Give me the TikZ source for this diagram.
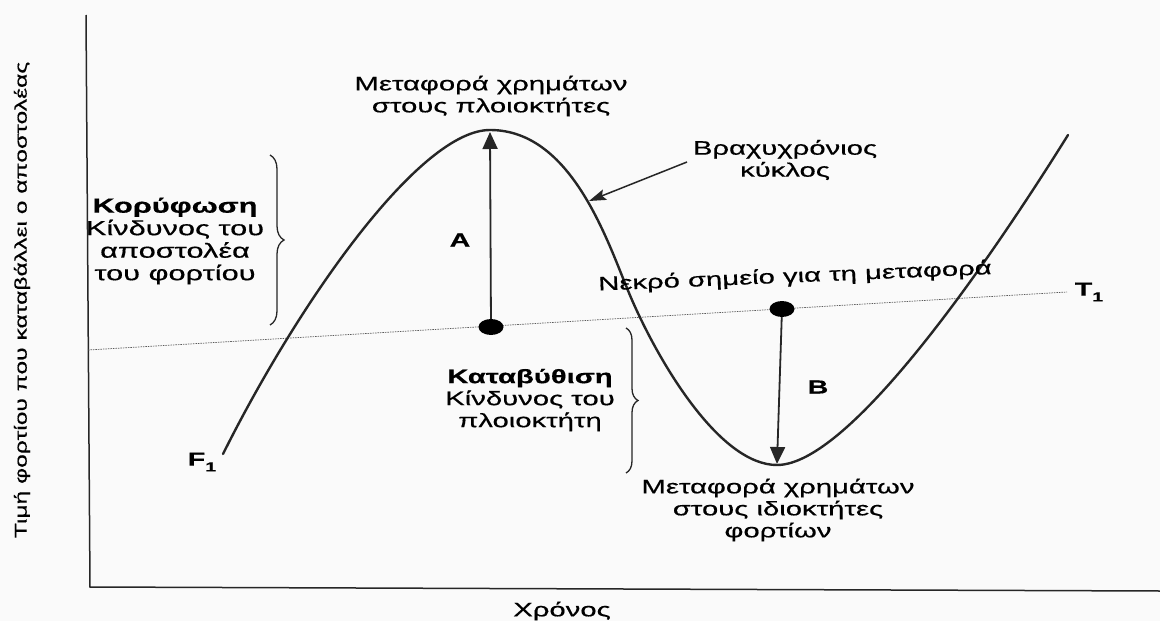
\documentclass[tikz,border=0pt]{standalone}
\usepackage{fontspec}
\setmainfont{Liberation Sans}
\newfontfamily\wf{Liberation Sans}[FakeStretch=1.5,FakeBold=0.5]
\newfontfamily\yf{Liberation Sans}[FakeStretch=1.45,FakeBold=0.4]
\usetikzlibrary{shapes.geometric,arrows.meta,decorations.pathreplacing}
\newcommand{\subone}{\raisebox{-0.3em}{\fontsize{13}{13}\selectfont 1}}
\begin{document}
\begin{tikzpicture}[x=1pt,y=-1pt,
  ink/.style={black!85},
  txt/.style={font=\wf\fontsize{19.5}{22}\selectfont, align=center, inner sep=0pt, text=black},
  lbl/.style={font=\wf\bfseries\fontsize{19}{22}\selectfont, inner sep=0pt, text=black},
  axisline/.style={ink, line width=1.5pt},
  dotline/.style={black!65, line width=0.7pt, dash pattern=on 1.5pt off 1pt},
  curveline/.style={ink, line width=2.4pt, line cap=round},
  dotnode/.style={ellipse, fill=black, draw=none, minimum width=25pt, minimum height=16pt, inner sep=0pt},
  bigarr/.style={ink, line width=1.8pt, -{Triangle[length=17pt,width=15pt]}},
  thinarr/.style={ink, line width=1.5pt, -{Stealth[length=17pt,width=11pt,inset=3pt]}},
  bracestyle/.style={ink, line width=1.3pt, decorate},
]
\path[use as bounding box, fill=gray!4] (0,0) rectangle (1160,621);

% axes
\coordinate (ytop) at (86,15);
\coordinate (orig) at (90,587);
\coordinate (xend) at (1160,591);
\draw[axisline] (ytop) -- (orig) -- (xend);

% dotted line T1
\coordinate (d0) at (88,350);
\coordinate (d1) at (1067,292);
\draw[dotline] (d0) -- (d1);

% curve
\coordinate (cs) at (223,454);
\coordinate (cpeak) at (490,130);
\coordinate (cinf) at (632,300);
\coordinate (ctr) at (777,465);
\coordinate (ce) at (1068,135);
\draw[curveline] (cs) .. controls (300,300) and (420,130) .. (cpeak)
  .. controls (575,130) and (610,250) .. (cinf)
  .. controls (660,364) and (720,465) .. (ctr)
  .. controls (850,465) and (990,260) .. (ce);

% dots and arrows
\node[dotnode] (dA) at (491,327) {};
\node[dotnode] (dB) at (782,309) {};
\coordinate (peak) at (490,132);
\coordinate (trough) at (777,464);
\draw[bigarr] (dA) -- (peak);
\draw[bigarr] (dB) -- (trough);

% short cycle arrow
\coordinate (bs) at (687,162);
\coordinate (be) at (589,201);
\draw[thinarr] (bs) -- (be);

% braces
\coordinate (b1t) at (270,155);
\coordinate (b1b) at (270,325);
\draw[bracestyle, decoration={brace, amplitude=14pt}] (b1t) -- (b1b);
\coordinate (b2t) at (626,328);
\coordinate (b2b) at (626,473);
\draw[bracestyle, decoration={brace, amplitude=12pt}] (b2t) -- (b2b);

% texts
\node[txt] (top) at (491,96) {Μεταφορά χρημάτων\\στους πλοιοκτήτες};
\node[txt, font=\wf\fontsize{20.5}{22.5}\selectfont] (kor) at (175,241) {\textbf{Κορύφωση}\\Κίνδυνος του\\αποστολέα\\του φορτίου};
\node[txt] (kat) at (530,400) {\textbf{Καταβύθιση}\\Κίνδυνος του\\πλοιοκτήτη};
\node[txt] (bot) at (778,510) {Μεταφορά χρημάτων\\στους ιδιοκτήτες\\φορτίων};
\node[txt] (brax) at (785,160) {Βραχυχρόνιος\\κύκλος};
\node[txt, rotate=2.4] (nekro) at (795,277) {Νεκρό σημείο για τη μεταφορά};
\node[txt] (xlab) at (562,611) {Χρόνος};
\node[font=\yf\fontsize{17}{20}\selectfont, inner sep=0pt, text=black, rotate=90] (ylab) at (22,300) {Τιμή φορτίου που καταβάλλει ο αποστολέας};
\node[lbl] (A) at (460,240) {A};
\node[lbl] (B) at (818,387) {B};
\node[lbl] (F) at (202,462) {F\subone};
\node[lbl] (T) at (1089,292) {T\subone};
\end{tikzpicture}
\end{document}
